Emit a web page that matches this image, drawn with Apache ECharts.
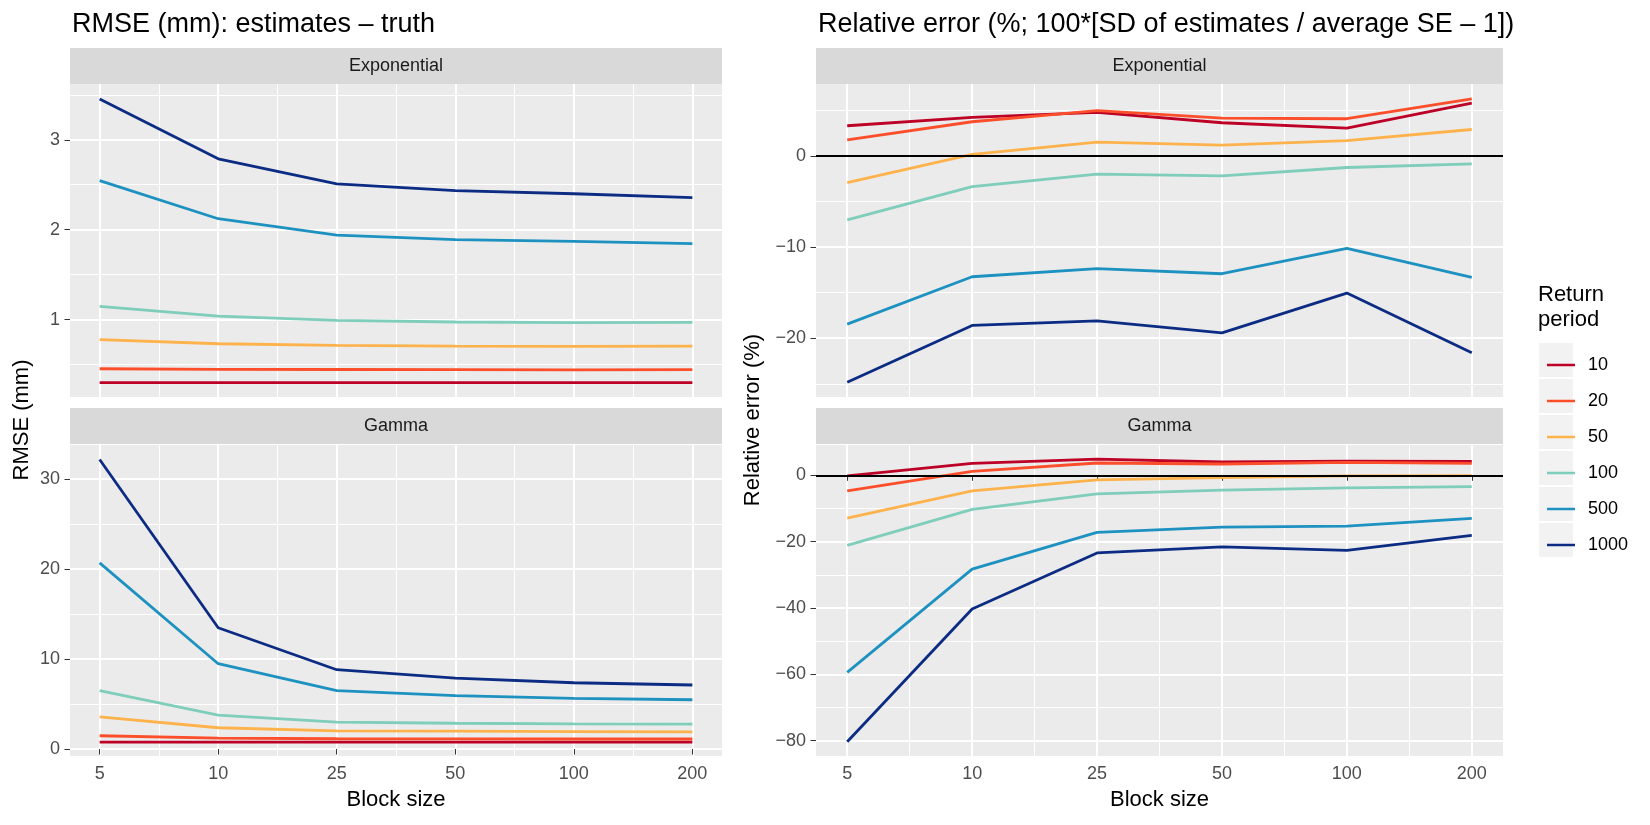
<!DOCTYPE html>
<html>
<head>
<meta charset="utf-8">
<script src="https://cdn.jsdelivr.net/npm/echarts@6/dist/echarts.min.js"></script>
<style>
  html, body { margin: 0; padding: 0; background: #fff; }
  #chart { width: 1650px; height: 825px; }
</style>
</head>
<body>
<div id="chart"></div>
<script>
// block sizes (x categories) and return periods (series)
var blockSizes = ['5', '10', '25', '50', '100', '200'];
var periods = ['10', '20', '50', '100', '500', '1000'];
var colors = ['#BD0026', '#FC4E2A', '#FEB24C', '#7FCDBB', '#1D91C0', '#0C2C84'];

// RMSE (mm), Exponential
var rmseExp10 = [0.30, 0.30, 0.30, 0.30, 0.30, 0.30];
var rmseExp20 = [0.454, 0.448, 0.446, 0.444, 0.442, 0.444];
var rmseExp50 = [0.777, 0.732, 0.713, 0.706, 0.702, 0.706];
var rmseExp100 = [1.148, 1.04, 0.993, 0.974, 0.966, 0.97];
var rmseExp500 = [2.546, 2.122, 1.94, 1.89, 1.87, 1.846];
var rmseExp1000 = [3.454, 2.788, 2.509, 2.435, 2.40, 2.357];

// RMSE (mm), Gamma
var rmseGam10 = [0.78, 0.78, 0.78, 0.78, 0.78, 0.78];
var rmseGam20 = [1.48, 1.22, 1.15, 1.13, 1.12, 1.12];
var rmseGam50 = [3.59, 2.37, 2.03, 1.99, 1.95, 1.92];
var rmseGam100 = [6.49, 3.78, 3.0, 2.87, 2.79, 2.77];
var rmseGam500 = [20.69, 9.49, 6.49, 5.93, 5.63, 5.48];
var rmseGam1000 = [32.19, 13.49, 8.82, 7.89, 7.37, 7.12];

// Relative error (%), Exponential
var relExp10 = [3.30, 4.21, 4.76, 3.63, 3.04, 5.79];
var relExp20 = [1.76, 3.74, 4.95, 4.14, 4.07, 6.26];
var relExp50 = [-2.93, 0.15, 1.50, 1.17, 1.68, 2.89];
var relExp100 = [-7.03, -3.37, -2.01, -2.20, -1.28, -0.88];
var relExp500 = [-18.46, -13.26, -12.38, -12.93, -10.15, -13.33];
var relExp1000 = [-24.84, -18.6, -18.1, -19.41, -15.05, -21.6];

// Relative error (%), Gamma
var relGam10 = [-0.2, 3.6, 4.9, 4.0, 4.3, 4.2];
var relGam20 = [-4.7, 1.2, 3.7, 3.4, 3.9, 3.6];
var relGam50 = [-12.9, -4.7, -1.4, -0.7, -0.2, -0.1];
var relGam100 = [-21.1, -10.25, -5.6, -4.5, -3.8, -3.4];
var relGam500 = [-59.4, -28.3, -17.2, -15.6, -15.3, -13.0];
var relGam1000 = [-80.3, -40.3, -23.4, -21.6, -22.6, -18.1];

// y tick labels per panel
var ticksRmseExp = [1, 2, 3];
var minorRmseExp = [0.5, 1.5, 2.5, 3.5];
var ticksRmseGam = [0, 10, 20, 30];
var minorRmseGam = [5, 15, 25];
var ticksRelExp = [-20, -10, 0];
var minorRelExp = [-25, -15, -5, 5];
var ticksRelGam = [-80, -60, -40, -20, 0];
var minorRelGam = [-70, -50, -30, -10];

var panels = [
  { grid: { left: 70, top: 84, width: 652, height: 313 }, ymin: 0.14, ymax: 3.62,
    ticks: ticksRmseExp, minor: minorRmseExp, bottom: false, zero: false,
    data: [rmseExp10, rmseExp20, rmseExp50, rmseExp100, rmseExp500, rmseExp1000] },
  { grid: { left: 70, top: 445, width: 652, height: 311 }, ymin: -0.77, ymax: 33.8,
    ticks: ticksRmseGam, minor: minorRmseGam, bottom: true, zero: false,
    data: [rmseGam10, rmseGam20, rmseGam50, rmseGam100, rmseGam500, rmseGam1000] },
  { grid: { left: 816, top: 84, width: 687, height: 313 }, ymin: -26.45, ymax: 7.88,
    ticks: ticksRelExp, minor: minorRelExp, bottom: false, zero: true,
    data: [relExp10, relExp20, relExp50, relExp100, relExp500, relExp1000] },
  { grid: { left: 816, top: 445, width: 687, height: 311 }, ymin: -84.6, ymax: 9.13,
    ticks: ticksRelGam, minor: minorRelGam, bottom: true, zero: true,
    data: [relGam10, relGam20, relGam50, relGam100, relGam500, relGam1000] }
];

var font = 'Liberation Sans, Arial, sans-serif';
var xMajor = blockSizes.map(function (b, i) { return i + 1; });
var xMinor = [1.5, 2.5, 3.5, 4.5, 5.5];

var grids = [], xAxes = [], yAxes = [], series = [];
panels.forEach(function (p, k) {
  grids.push(Object.assign({ show: true, backgroundColor: '#EBEBEB', borderWidth: 0 }, p.grid));
  // minor x grid
  xAxes.push({
    type: 'value', gridIndex: k, position: 'bottom', offset: 0, min: 0.75, max: 6.25,
    axisLine: { show: false }, axisTick: { show: false, customValues: xMinor },
    axisLabel: { show: false, customValues: xMinor },
    splitLine: { show: true, lineStyle: { color: '#FFFFFF', width: 1 } }
  });
  // major x axis
  xAxes.push({
    type: 'value', gridIndex: k, position: 'bottom', offset: 0, min: 0.75, max: 6.25,
    name: p.bottom ? 'Block size' : '', nameLocation: 'middle', nameGap: 33,
    nameTextStyle: { fontFamily: font, fontSize: 22, color: '#000' },
    axisLine: { show: false },
    axisTick: { show: p.bottom, customValues: xMajor, length: 5.5, lineStyle: { color: '#333', width: 1 } },
    axisLabel: { show: p.bottom, customValues: xMajor, margin: 9, color: '#4D4D4D', fontFamily: font, fontSize: 18,
      formatter: function (v) { return blockSizes[Math.round(v) - 1]; } },
    splitLine: { show: true, lineStyle: { color: '#FFFFFF', width: 2 } }
  });
  yAxes.push({
    type: 'value', gridIndex: k, position: 'left', offset: 0, min: p.ymin, max: p.ymax,
    axisLine: { show: false }, axisTick: { show: false, customValues: p.minor },
    axisLabel: { show: false, customValues: p.minor },
    splitLine: { show: true, lineStyle: { color: '#FFFFFF', width: 1 } }
  });
  yAxes.push({
    type: 'value', gridIndex: k, position: 'left', offset: 0, min: p.ymin, max: p.ymax,
    axisLine: { show: false },
    axisTick: { show: true, customValues: p.ticks, length: 5.5, lineStyle: { color: '#333', width: 1 } },
    axisLabel: { show: true, customValues: p.ticks, margin: 10, color: '#4D4D4D', fontFamily: font, fontSize: 18,
      formatter: function (v) { return String(v).replace('-', '\u2212'); } },
    splitLine: { show: true, lineStyle: { color: '#FFFFFF', width: 2 } }
  });
  p.data.forEach(function (vals, s) {
    var ser = {
      name: periods[s], type: 'line', xAxisIndex: 2 * k + 1, yAxisIndex: 2 * k + 1,
      data: vals.map(function (v, i) { return [i + 1, v]; }),
      showSymbol: false, symbol: 'none', color: colors[s],
      lineStyle: { width: 2.8, color: colors[s] }, z: 3
    };
    if (p.zero && s === 0) {
      ser.markLine = {
        silent: true, symbol: 'none', label: { show: false },
        lineStyle: { color: '#000', width: 1.8, type: 'solid' },
        data: [{ yAxis: 0 }]
      };
    }
    series.push(ser);
  });
});

var graphics = [];
// strips
[[70, 48, 652, 'Exponential'], [70, 408, 652, 'Gamma'], [816, 48, 687, 'Exponential'], [816, 408, 687, 'Gamma']]
  .forEach(function (s) {
    graphics.push({ type: 'rect', shape: { x: s[0], y: s[1], width: s[2], height: 36 }, style: { fill: '#D9D9D9' }, z: 1 });
    graphics.push({ type: 'text', x: s[0] + s[2] / 2, y: s[1] + 18, z: 2,
      style: { text: s[3], fill: '#1A1A1A', font: '18px ' + font, textAlign: 'center', textVerticalAlign: 'middle' } });
  });
// y-axis titles
graphics.push({ type: 'text', x: 22, y: 420, rotation: Math.PI / 2, z: 2,
  style: { text: 'RMSE (mm)', fill: '#000', font: '22px ' + font, textAlign: 'center', textVerticalAlign: 'middle' } });
graphics.push({ type: 'text', x: 753, y: 420, rotation: Math.PI / 2, z: 2,
  style: { text: 'Relative error (%)', fill: '#000', font: '22px ' + font, textAlign: 'center', textVerticalAlign: 'middle' } });
// legend key backgrounds
periods.forEach(function (p, i) {
  graphics.push({ type: 'rect', shape: { x: 1539, y: 343 + 36 * i, width: 34, height: 34 }, style: { fill: '#F2F2F2' }, z: 1 });
});
graphics.push({ type: 'text', x: 1538, y: 307, z: 2,
  style: { text: 'Return\nperiod', fill: '#000', font: '22px ' + font, lineHeight: 25, textAlign: 'left', textVerticalAlign: 'middle' } });

var chart = echarts.init(document.getElementById('chart'));
chart.setOption({
  animation: false,
  backgroundColor: '#FFFFFF',
  title: [
    { text: 'RMSE (mm): estimates \u2013 truth', left: 67, top: 6,
      textStyle: { fontFamily: font, fontSize: 27, fontWeight: 'normal', color: '#000' } },
    { text: 'Relative error (%; 100*[SD of estimates / average SE \u2013 1])', left: 813, top: 6,
      textStyle: { fontFamily: font, fontSize: 27, fontWeight: 'normal', color: '#000' } }
  ],
  legend: {
    data: periods, orient: 'vertical', left: 1542, top: 342, icon: 'rect',
    itemWidth: 28, itemHeight: 2.5, itemGap: 0, selectedMode: false,
    textStyle: { fontFamily: font, fontSize: 18, color: '#000', lineHeight: 36, padding: [0, 0, 0, 8] }
  },
  grid: grids,
  xAxis: xAxes,
  yAxis: yAxes,
  series: series,
  graphic: graphics
});
</script>
</body>
</html>
